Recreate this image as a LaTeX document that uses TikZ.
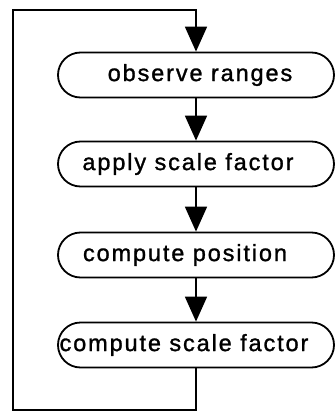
\documentclass[tikz,border=0pt]{standalone}
\usepackage{fontspec}
\setmainfont{Liberation Sans}[LetterSpace=8,FakeBold=1.2]
\usetikzlibrary{shapes.misc,arrows.meta}
\tikzset{
  stadium/.style={rounded rectangle, draw, line width=1.8pt,
    minimum width=276pt, minimum height=45pt, inner sep=0pt},
  caption/.style={inner sep=0pt, font=\fontsize{23.5}{27}\selectfont},
  flow/.style={line width=1.8pt, line join=miter,
    -{Triangle[width=22pt,length=25pt]}}
}
\begin{document}
\begin{tikzpicture}[x=1pt,y=1pt]
  \useasboundingbox (0,0) rectangle (336,-412);
  % process steps
  \node[stadium] (b1) at (196,-75) {};
  \node[stadium] (b2) at (196,-164) {};
  \node[stadium] (b3) at (196,-255) {};
  \node[stadium] (b4) at (196,-345) {};
  \node[caption] (t1) at ([xshift=4pt]b1.center) {observe ranges};
  \node[caption] (t2) at ([xshift=-8pt]b2.center) {apply scale factor};
  \node[caption] (t3) at ([xshift=-11pt]b3.center) {compute position};
  \node[caption] (t4) at ([xshift=-12pt]b4.center) {compute scale factor};
  % corners of the feedback loop
  \coordinate (br) at (196,-410);
  \coordinate (bl) at (13,-410);
  \coordinate (tl) at (13,-10);
  \coordinate (tr) at (196,-10);
  % connectors
  \draw[flow] (b1.south) -- (b2.north);
  \draw[flow] (b2.south) -- (b3.north);
  \draw[flow] (b3.south) -- (b4.north);
  \draw[flow] (b4.south) -- (br) -- (bl) -- (tl) -- (tr) -- (b1.north);
\end{tikzpicture}
\end{document}
